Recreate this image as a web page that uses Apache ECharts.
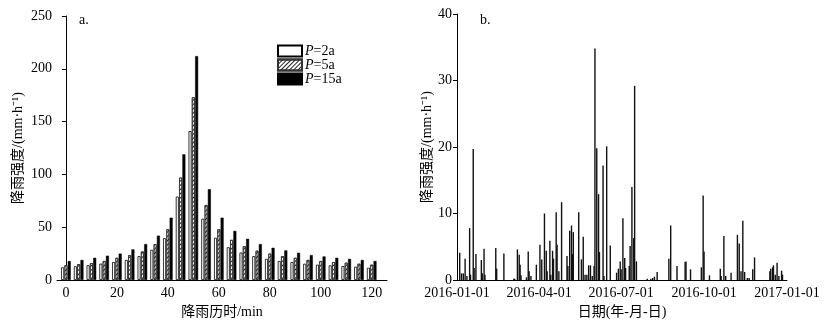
<!DOCTYPE html>
<html lang="zh">
<head>
	<meta charset="UTF-8">
	<title>降雨强度</title>
	<style>
		html, body { margin: 0; padding: 0; background: #fff; }
		#main { width: 833px; height: 324px; }
	</style>
</head>
<body>
	<div id="main"></div>
	<script src="https://cdn.jsdelivr.net/npm/echarts@6/dist/echarts.min.js"></script>
	<script>
		// 图 a：设计暴雨雨型（降雨历时，min）
		var minutes = [0, 5, 10, 15, 20, 25, 30, 35, 40, 45, 50, 55, 60, 65, 70, 75, 80, 85, 90, 95, 100, 105, 110, 115, 120];
		var p2a  = [12, 13, 14, 15.5, 17, 19, 22.6, 28.6, 39.6, 79, 141, 58, 40, 31, 26, 22.6, 20, 18, 17, 15.4, 14.5, 13.8, 13.2, 12.6, 11.6];
		var p5a  = [14, 15, 16, 18, 21, 23.5, 27, 34, 48, 97, 173, 71, 48, 38, 32, 27.7, 25, 22.6, 21, 19, 18, 17, 16.4, 15.4, 14.5];
		var p15a = [18, 19, 21, 23, 25, 29, 34, 42, 59, 119, 212, 86, 59, 46.5, 39, 34, 30.5, 28, 25.8, 23.6, 22.3, 21, 20, 19, 18];
		var minuteTicks = [0, 20, 40, 60, 80, 100, 120];

		// 图 b：2016 年逐日降雨强度
		var rainDates = [
			'2016-01-04', '2016-01-06', '2016-01-08', '2016-01-10', '2016-01-12', '2016-01-15', '2016-01-16', '2016-01-19',
			'2016-01-20', '2016-01-22', '2016-01-28', '2016-01-29', '2016-01-31', '2016-02-01', '2016-02-13', '2016-02-14',
			'2016-02-22', '2016-03-04', '2016-03-05', '2016-03-08', '2016-03-10', '2016-03-11', '2016-03-12', '2016-03-18',
			'2016-03-20', '2016-03-21', '2016-03-23', '2016-03-29', '2016-04-02', '2016-04-04', '2016-04-07', '2016-04-09',
			'2016-04-10', '2016-04-13', '2016-04-14', '2016-04-16', '2016-04-17', '2016-04-20', '2016-04-21', '2016-04-23',
			'2016-04-26', '2016-05-02', '2016-05-03', '2016-05-05', '2016-05-07', '2016-05-08', '2016-05-09', '2016-05-15',
			'2016-05-18', '2016-05-20', '2016-05-22', '2016-05-24', '2016-05-26', '2016-05-28', '2016-05-30', '2016-06-01',
			'2016-06-02', '2016-06-04', '2016-06-06', '2016-06-07', '2016-06-11', '2016-06-12', '2016-06-15', '2016-06-19',
			'2016-06-26', '2016-06-28', '2016-06-30', '2016-07-01', '2016-07-03', '2016-07-05', '2016-07-06', '2016-07-10',
			'2016-07-11', '2016-07-13', '2016-07-15', '2016-07-16', '2016-07-18', '2016-07-30', '2016-08-03', '2016-08-05',
			'2016-08-07', '2016-08-10', '2016-08-23', '2016-08-25', '2016-09-01', '2016-09-10', '2016-09-11', '2016-09-16',
			'2016-09-28', '2016-09-30', '2016-10-01', '2016-10-07', '2016-10-19', '2016-10-20', '2016-10-23', '2016-10-25',
			'2016-10-31', '2016-11-07', '2016-11-09', '2016-11-11', '2016-11-13', '2016-11-15', '2016-11-18', '2016-11-20',
			'2016-11-24', '2016-11-26', '2016-12-13', '2016-12-14', '2016-12-16', '2016-12-17', '2016-12-19', '2016-12-21',
			'2016-12-23', '2016-12-26', '2016-12-27'
		];
		var rainValues = [
			4.1, 1.0, 1.0, 3.2, 0.6, 7.8, 0.8, 19.7,
			1.8, 3.9, 3.0, 1.0, 4.7, 0.8, 4.8, 1.7,
			4.0, 0.2, 0.2, 4.6, 3.8, 2.3, 0.7, 0.4,
			4.3, 1.3, 0.6, 2.3, 5.3, 3.1, 10.0, 4.4,
			1.3, 5.9, 0.8, 4.4, 3.2, 10.2, 5.3, 1.3,
			11.7, 3.6, 2.1, 7.4, 8.2, 3.9, 7.2, 10.2,
			3.1, 6.5, 0.8, 0.8, 2.2, 2.2, 0.6, 2.1,
			34.8, 19.8, 12.9, 4.2, 17.2, 0.6, 20.1, 5.2,
			1.1, 1.7, 2.8, 1.6, 9.3, 3.3, 1.8, 2.1,
			5.1, 14.0, 6.3, 29.2, 2.8, 0.2, 0.2, 0.3,
			0.5, 1.2, 3.2, 8.2, 2.1, 2.7, 2.8, 1.6,
			1.9, 12.7, 4.3, 0.7, 1.7, 0.6, 6.6, 0.6,
			1.1, 6.8, 5.5, 1.3, 8.9, 1.2, 0.3, 0.3,
			1.6, 3.4, 1.3, 1.7, 1.9, 2.2, 0.8, 2.6,
			0.6, 1.4, 0.8
		];
		var dateTicks = ['2016-01-01', '2016-04-01', '2016-07-01', '2016-10-01', '2017-01-01'];

		// 逐日类目（2016-01-01 至 2017-01-01）
		var allDays = [];
		for (var i = 0; i <= 366; i++) {
			allDays.push(new Date(Date.UTC(2016, 0, 1 + i)).toISOString().slice(0, 10));
		}

		var FONT = '"Liberation Serif", "Noto Sans CJK SC", serif';
		var axisLine = { lineStyle: { color: '#000', width: 1 } };
		var labelStyle = { color: '#000', fontFamily: FONT, fontSize: 14 };
		var nameStyle = { color: '#000', fontFamily: FONT, fontSize: 14 };

		function pairs(xs, ys) {
			return xs.map(function (x, k) { return [x, ys[k]]; });
		}

		var myChart = echarts.init(document.getElementById('main'));
		var option = {
			animation: false,
			backgroundColor: '#fff',
			title: [
				{ text: 'a.', left: 74, top: 8, textStyle: { color: '#000', fontFamily: FONT, fontSize: 14, fontWeight: 'normal' } },
				{ text: 'b.', left: 475, top: 8, textStyle: { color: '#000', fontFamily: FONT, fontSize: 14, fontWeight: 'normal' } }
			],
			legend: {
				left: 272,
				top: 39,
				orient: 'vertical',
				icon: 'rect',
				itemWidth: 24,
				itemHeight: 11,
				itemGap: 0,
				data: ['P=2a', 'P=5a', 'P=15a'],
				formatter: function (name) { return '{i|P}' + name.slice(1); },
				textStyle: {
					color: '#000', fontFamily: FONT, fontSize: 14, lineHeight: 12, padding: [0, 0, 0, -2],
					rich: { i: { fontStyle: 'italic', fontFamily: FONT, fontSize: 14, lineHeight: 12, color: '#000' } }
				}
			},
			grid: [
				{ left: 57, right: 446, top: 16, bottom: 44 },
				{ left: 457, right: 46, top: 14, bottom: 44 }
			],
			xAxis: [
				{
					gridIndex: 0,
					type: 'value',
					min: -3.5,
					max: 126,
					interval: 0.5,
					name: '降雨历时/min',
					nameLocation: 'middle',
					nameGap: 19,
					nameTextStyle: nameStyle,
					axisLine: axisLine,
					axisTick: { show: false },
					splitLine: { show: false },
					axisLabel: Object.assign({
						margin: 6,
						showMinLabel: false,
						showMaxLabel: false,
						formatter: function (v) { return minuteTicks.indexOf(Math.round(v * 2) / 2) >= 0 ? String(v) : ''; }
					}, labelStyle)
				},
				{
					gridIndex: 1,
					type: 'category',
					data: allDays,
					boundaryGap: false,
					name: '日期(年-月-日)',
					nameLocation: 'middle',
					nameGap: 21,
					nameTextStyle: nameStyle,
					axisLine: axisLine,
					axisTick: { show: false },
					splitLine: { show: false },
					axisLabel: Object.assign({
						margin: 6,
						interval: function (idx, val) { return dateTicks.indexOf(val) >= 0; }
					}, labelStyle)
				}
			],
			yAxis: [
				{
					gridIndex: 0,
					type: 'value',
					min: 0,
					max: 250,
					interval: 50,
					name: '降雨强度/(mm·h⁻¹)',
					nameLocation: 'middle',
					nameGap: 32,
					nameTextStyle: nameStyle,
					axisLine: { show: true, lineStyle: { color: '#000', width: 1 } },
					axisTick: { show: true, length: 4, lineStyle: { color: '#000' } },
					splitLine: { show: false },
					axisLabel: Object.assign({ margin: 5 }, labelStyle)
				},
				{
					gridIndex: 1,
					type: 'value',
					min: 0,
					max: 40,
					interval: 10,
					name: '降雨强度/(mm·h⁻¹)',
					nameLocation: 'middle',
					nameGap: 23,
					nameTextStyle: nameStyle,
					axisLine: { show: true, lineStyle: { color: '#000', width: 1 } },
					axisTick: { show: true, length: 4, lineStyle: { color: '#000' } },
					splitLine: { show: false },
					axisLabel: Object.assign({ margin: 5 }, labelStyle)
				}
			],
			series: [
				{
					name: 'P=2a',
					type: 'bar',
					xAxisIndex: 0,
					yAxisIndex: 0,
					barWidth: 3,
					barGap: '10%',
					data: pairs(minutes, p2a),
					itemStyle: { color: '#fff', borderColor: '#000', borderWidth: 0.8 }
				},
				{
					name: 'P=5a',
					type: 'bar',
					xAxisIndex: 0,
					yAxisIndex: 0,
					barWidth: 3,
					barGap: '10%',
					data: pairs(minutes, p5a),
					itemStyle: {
						color: '#fff', borderColor: '#333', borderWidth: 0.8,
						decal: {
							symbol: 'rect', symbolSize: 1, color: '#222',
							dashArrayX: [1, 0], dashArrayY: [1, 2], rotation: -Math.PI / 4
						}
					}
				},
				{
					name: 'P=15a',
					type: 'bar',
					xAxisIndex: 0,
					yAxisIndex: 0,
					barWidth: 3,
					barGap: '10%',
					data: pairs(minutes, p15a),
					itemStyle: { color: '#000', borderColor: '#000', borderWidth: 0.5 }
				},
				{
					name: '降雨强度',
					type: 'bar',
					xAxisIndex: 1,
					yAxisIndex: 1,
					barWidth: 1.4,
					data: pairs(rainDates, rainValues),
					itemStyle: { color: '#111' }
				}
			]
		};

		myChart.setOption(option);
	</script>
</body>
</html>
